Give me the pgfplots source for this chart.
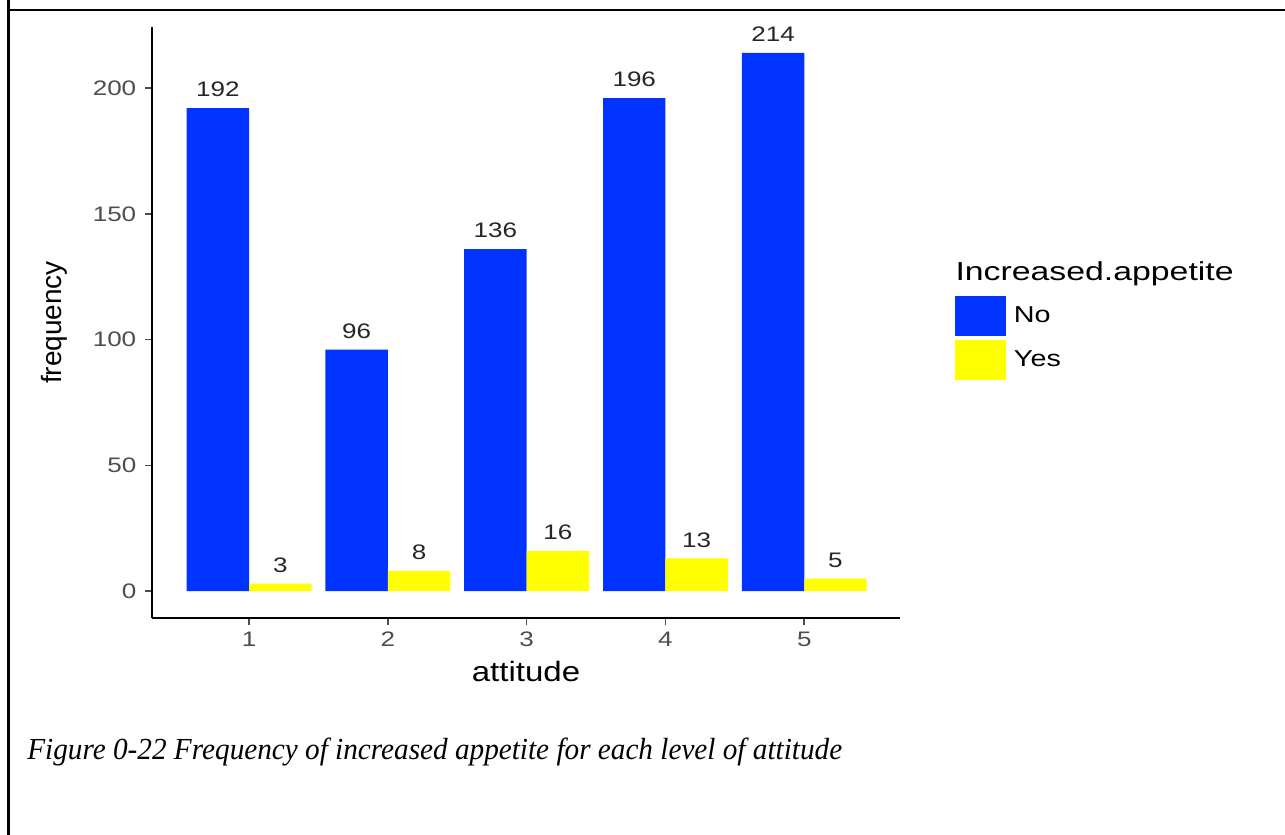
\documentclass[border=0pt]{standalone}
\usepackage{pgfplots}
\pgfplotsset{compat=1.18}
\usepackage{fontspec}
\setmainfont{Liberation Sans}
\newfontfamily\capfont{Liberation Serif}
\definecolor{barNo}{HTML}{0033FF}
\definecolor{barYes}{HTML}{FFFF00}
\definecolor{ticktext}{HTML}{4D4D4D}

\begin{document}
\begin{tikzpicture}
\path[use as bounding box] (0,0) rectangle (642.5pt,417.5pt);
% frame of the table cell
\draw[line width=1.1pt] (4.25pt,0) -- (4.25pt,417.5pt);
\draw[line width=1.1pt] (4.25pt,412.5pt) -- (642.5pt,412.5pt);
\begin{axis}[
  at={(76pt,108.5pt)}, anchor=south west,
  width=374pt, height=295.5pt, scale only axis,
  xmin=0.3, xmax=5.69, ymin=-10.7, ymax=224.3,
  enlargelimits=false,
  axis lines*=left,
  axis line style={line width=1pt, black},
  tick align=outside, major tick length=3.5pt,
  tick style={line width=0.8pt, color=ticktext},
  xtick={1,2,3,4,5}, ytick={0,50,100,150,200},
  /pgf/number format/assume math mode=true,
  tick label style={font=\fontsize{10.5}{12}\selectfont, text=ticktext, xscale=1.24},
  ylabel={frequency},
  ylabel style={at={(axis description cs:-0.13,0.5)}, anchor=center, font=\fontsize{14}{16}\selectfont},
  xlabel={attitude},
  xlabel style={at={(axis description cs:0.5,-0.0905)}, anchor=center, font=\fontsize{14}{16}\selectfont, xscale=1.18},
  ybar, bar width=0.45,
  nodes near coords,
  every node near coord/.append style={font=\fontsize{10.5}{12}\selectfont, text=black!85, xscale=1.24, yshift=2pt},
  legend style={at={(axis description cs:1.0735,0.5448)}, anchor=north west, draw=none, fill=none,
    inner sep=0pt, outer sep=0pt, row sep=2pt, column sep=4pt,
    font=\fontsize{11.5}{13}\selectfont, nodes={inner sep=0pt, xscale=1.25}},
  legend cell align=left,
  legend image code/.code={\fill[#1] (0pt,-10pt) rectangle (25.5pt,10pt);},
]
\addplot[fill=barNo, draw=none, bar shift=-0.225] coordinates {(1,192)(2,96)(3,136)(4,196)(5,214)};
\addlegendentry{No}
\addplot[fill=barYes, draw=none, bar shift=0.225] coordinates {(1,3)(2,8)(3,16)(4,13)(5,5)};
\addlegendentry{Yes}
\end{axis}
\node[anchor=base west, inner sep=0pt, font=\fontsize{13}{15}\selectfont, xscale=1.3] at (477.5pt,277pt) {Increased.appetite};
\node[anchor=base west, inner sep=0pt, font=\capfont\itshape\fontsize{15.3}{18}\selectfont, xscale=0.955] at (13.5pt,37.5pt) {Figure 0-22 Frequency of increased appetite for each level of attitude};
\end{tikzpicture}
\end{document}
